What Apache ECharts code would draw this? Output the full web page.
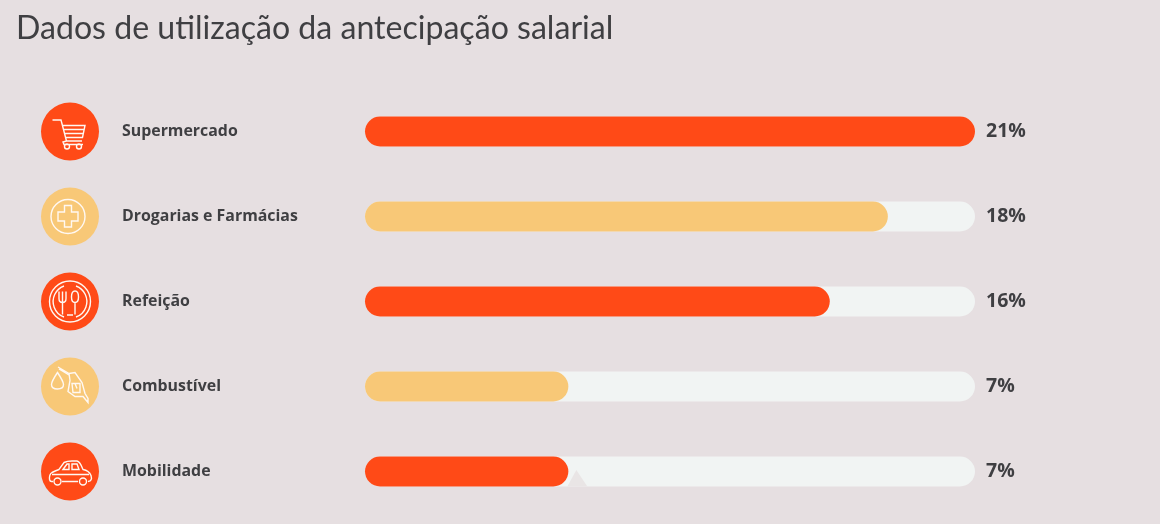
<!DOCTYPE html>
<html><head><meta charset="utf-8">
<style>html,body{margin:0;padding:0;background:#e6dfe1}#c{width:1160px;height:524px}</style>
<script src="https://cdn.jsdelivr.net/npm/echarts@6/dist/echarts.min.js"></script>
</head><body><div id="c"></div>
<script>
const titleText = 'Dados de utilização da antecipação salarial';
const categories = ['Supermercado','Drogarias e Farmácias','Refeição','Combustível','Mobilidade'];
const values = [21,18,16,7,7];
const trackValues = [21,21,21,21,21];
const ORANGE='#ff4a17', YELLOW='#f8c877';
const rowColors = [ORANGE,YELLOW,ORANGE,YELLOW,ORANGE];

function circle(cx,cy,r){return `M${cx-r} ${cy}A${r} ${r} 0 1 1 ${cx+r} ${cy}A${r} ${r} 0 1 1 ${cx-r} ${cy}Z`;}
const iconPaths = [
  // cart
  'M-17.5 -11.5L-9 -11.5L-3.5 9.5L12 9.5 M-7.5 -6L15 -6L12.5 6L-4.5 6 M-6.5 -2L14 -2 M-5.5 2L13.5 2 M-3.5 9.5L-7 10.5L-6 13L13 13'+circle(-3,15,2.5)+circle(9,15,2.5),
  // cross in circle
  circle(-2,0,17)+'M-5.5 -11L1.5 -11L1.5 -4.5L8 -4.5L8 4.5L1.5 4.5L1.5 10.5L-5.5 10.5L-5.5 4.5L-12 4.5L-12 -4.5L-5.5 -4.5Z',
  // plate, fork, spoon
  circle(0,0,20.5)+'M-6 -15.5A16.5 16.5 0 0 0 -6 15.5 M6 -15.5A16.5 16.5 0 0 1 6 15.5 M-11 -10L-11 -3Q-11 1 -7.5 1Q-4 1 -4 -3L-4 -10 M-7.5 -10L-7.5 13 M5 1L5 13 M5 -10.5Q1.5 -10.5 1.5 -4.5Q1.5 1 5 1Q8.5 1 8.5 -4.5Q8.5 -10.5 5 -10.5Z M-3 13.5L3 13.5',
  // drop and fuel nozzle
  'M-12.5 -14Q-18.5 -5 -18.5 -2Q-18.5 2.5 -12.5 2.5Q-6.5 2.5 -6.5 -2Q-6.5 -5 -12.5 -14Z M-12 -19.5L-1 -13 M-11 -17.5L-1 -11.5 M-1 -13L0 -6L-2 5L5 10L13 10L18 16L18 12L15 7L12 -4L5 -14L-1 -13 M2 -3L10 -3L10 6L3 6Z M5 -3L7 2',
  // car
  'M-20.5 8Q-21 3 -18 1Q-14 -1 -11 -2L-6 -9Q-3 -10.5 2 -10.5L7 -10.5Q10 -10 13 -2Q19 -1 21 4L21.5 7Q21 10 18 10 M-8 10L8 10 M-17 10L-18.5 10Q-20 10 -20.5 8 M-7 -2L-3 -7.5L-1 -7.5L-1 -2Z M2 -7.5L7 -7.5L9 -2L2 -2Z M-18 3L19 3'+circle(-12.5,10,3.5)+circle(13,10,3.5)
];

const chart = echarts.init(document.getElementById('c'));
chart.setOption({
  backgroundColor:'#e6dfe1',
  animation:false,
  title:{text:titleText,left:11,top:8,textStyle:{fontFamily:'Lato',fontSize:32.1,fontWeight:400,color:'#3f3f42'}},
  grid:[
    {left:365,width:610,top:89,height:425},
    {left:41,width:58,top:89,height:425}
  ],
  xAxis:[
    {type:'value',min:0,max:21,show:false,gridIndex:0},
    {type:'value',min:-1,max:1,show:false,gridIndex:1}
  ],
  yAxis:[
    {type:'category',inverse:true,data:categories,gridIndex:0,
     axisLine:{show:false},axisTick:{show:false},
     axisLabel:{align:'left',margin:243,padding:[4,0,0,0],fontFamily:'Open Sans',fontSize:15.9,fontWeight:700,color:'#3f3f42'}},
    {type:'category',inverse:true,data:categories,gridIndex:1,show:false}
  ],
  series:[
    {type:'bar',name:'track',data:trackValues,barWidth:30,barGap:'-100%',z:1,silent:true,
     itemStyle:{color:'#f1f4f3',borderRadius:15},
     label:{show:true,position:'right',distance:11,padding:[4,0,0,0],fontFamily:'Open Sans',fontSize:19.5,fontWeight:700,color:'#3f3f42',
            formatter:p=>values[p.dataIndex]+'%'}},
    {type:'custom',name:'artefact',z:2,silent:true,clip:false,
     data:[[values[4],categories[4]]],
     renderItem:(p,api)=>{
       const c=api.coord([api.value(0),4]);
       return {type:'polygon',shape:{points:[[c[0]-1,c[1]+15],[c[0]+8,c[1]-1.5],[c[0]+19,c[1]+15]]},style:{fill:'#e9e5e5'}};
     }},
    {type:'bar',name:'Uso',data:values.map((v,i)=>({value:v,itemStyle:{color:rowColors[i]}})),barWidth:30,barGap:'-100%',z:3,
     itemStyle:{borderRadius:15}},
    {type:'custom',name:'icons',xAxisIndex:1,yAxisIndex:1,silent:true,
     data:categories.map((c,i)=>[0,i]),
     renderItem:(p,api)=>{
       const i=p.dataIndex, c=api.coord([0,i]);
       return {type:'group',x:c[0],y:c[1],children:[
         {type:'circle',shape:{cx:0,cy:0,r:29},style:{fill:rowColors[i]}},
         {type:'path',shape:{pathData:iconPaths[i]},style:{fill:null,stroke:'#fff8f2',lineWidth:1.4}}
       ]};
     }}
  ]
});
</script></body></html>
